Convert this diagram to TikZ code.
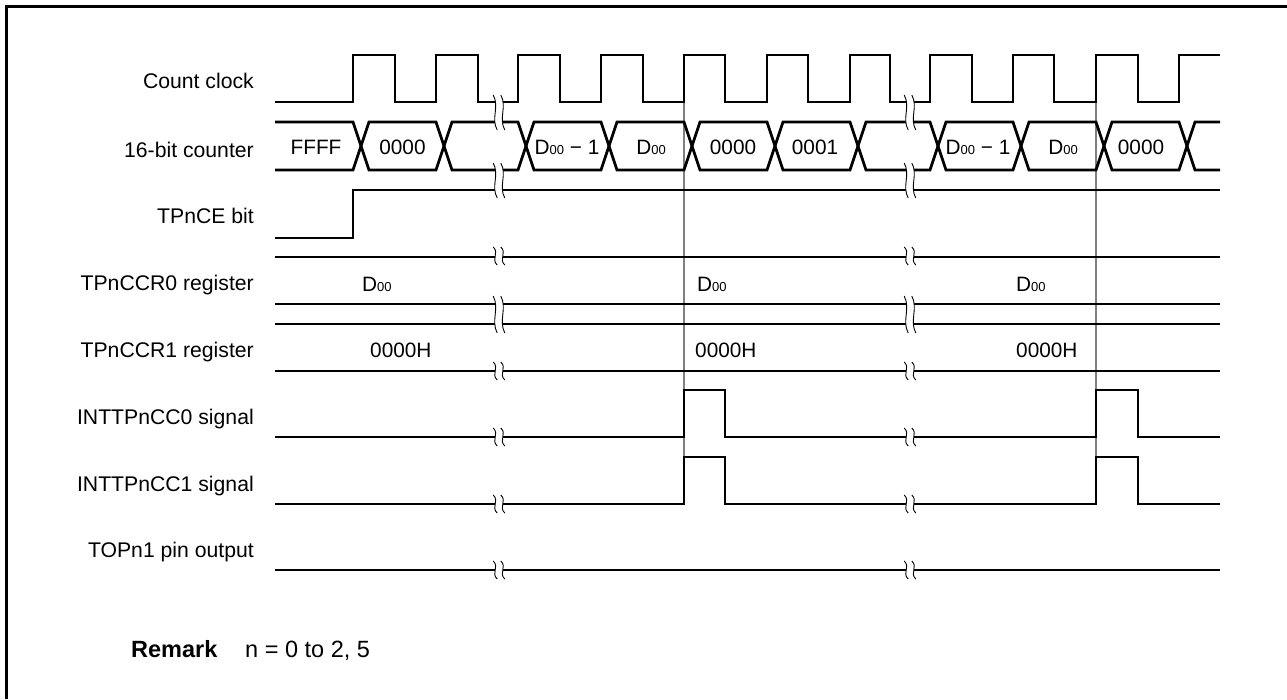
\documentclass[tikz,border=0pt]{standalone}
\usepackage{fontspec}
\setmainfont{Liberation Sans}
\newcommand\lblfont{\fontsize{21.2}{25}\selectfont}
\newcommand\valfont{\fontsize{20.8}{24}\selectfont}
\newcommand\remfont{\fontsize{23.5}{28}\selectfont}
\newcommand\Dsub{D\raisebox{-0.6pt}{\fontsize{13}{13}\selectfont 00}}
\newcommand\brkmark[3]{%
  \fill[white] ({#1-3.8-2},#2) .. controls ({#1-3.8+4.5},{#2+(#3-#2)/3}) and ({#1-3.8-4.5},{#2+2*(#3-#2)/3}) .. ({#1-3.8+2},#3)
     -- ({#1+3.8+2},#3) .. controls ({#1+3.8-4.5},{#2+2*(#3-#2)/3}) and ({#1+3.8+4.5},{#2+(#3-#2)/3}) .. ({#1+3.8-2},#2) -- cycle;
  \draw[line width=0.9pt] ({#1-3.8-2},#2) .. controls ({#1-3.8+4.5},{#2+(#3-#2)/3}) and ({#1-3.8-4.5},{#2+2*(#3-#2)/3}) .. ({#1-3.8+2},#3);
  \draw[line width=0.9pt] ({#1+3.8-2},#2) .. controls ({#1+3.8+4.5},{#2+(#3-#2)/3}) and ({#1+3.8-4.5},{#2+2*(#3-#2)/3}) .. ({#1+3.8+2},#3);
}
\begin{document}
\begin{tikzpicture}[x=1pt,y=-1pt,
  sig/.style={line width=2.8pt, line join=miter},
  guide/.style={draw=black!50, line width=1.3pt},
  lbl/.style={anchor=base east, inner sep=0pt, font=\lblfont},
  val/.style={anchor=base, inner sep=0pt, font=\valfont},
  valw/.style={anchor=base west, inner sep=0pt, font=\valfont}]
\useasboundingbox (0,0) rectangle (1287,699);
% frame
\draw[line width=3.3pt] (6.5,699) -- (6.5,6.5) -- (1287,6.5);
% guide lines
\coordinate (g1t) at (684,102); \coordinate (g1b) at (684,457);
\coordinate (g2t) at (1096,102); \coordinate (g2b) at (1096,457);
\draw[guide] (g1t) -- (g1b);
\draw[guide] (g2t) -- (g2b);
% labels
\node[lbl] (lclk) at (254,88) {Count clock};
\node[lbl] (lcnt) at (254,157) {16-bit counter};
\node[lbl] (lce) at (254,223) {TPnCE bit};
\node[lbl] (lccr0) at (254,290) {TPnCCR0 register};
\node[lbl] (lccr1) at (254,357) {TPnCCR1 register};
\node[lbl] (lint0) at (254,424) {INTTPnCC0 signal};
\node[lbl] (lint1) at (254,491) {INTTPnCC1 signal};
\node[lbl] (ltop) at (254,557) {TOPn1 pin output};
% count clock
\draw[sig] (275,102)--(353,102)--(353,55)--(395,55)--(395,102)--(436,102)--(436,55)--(478,55)--(478,102)
 --(518,102)--(518,55)--(560,55)--(560,102)--(601,102)--(601,55)--(643,55)--(643,102)--(684,102)--(684,55)
 --(725,55)--(725,102)--(767,102)--(767,55)--(808,55)--(808,102)--(850,102)--(850,55)--(890,55)--(890,102)
 --(930,102)--(930,55)--(972,55)--(972,102)--(1013,102)--(1013,55)--(1054,55)--(1054,102)--(1096,102)--(1096,55)
 --(1138,55)--(1138,102)--(1179,102)--(1179,55)--(1220,55);
% 16-bit counter bus
\draw[sig] (275,122)--(353,122)--(369,170)--(436,170)--(452,122)--(518,122)--(534,170)--(601,170)--(617,122)
 --(684,122)--(700,170)--(767,170)--(783,122)--(850,122)--(866,170)--(930,170)--(946,122)--(1013,122)
 --(1029,170)--(1096,170)--(1112,122)--(1179,122)--(1195,170)--(1220,170);
\draw[sig] (275,170)--(353,170)--(369,122)--(436,122)--(452,170)--(518,170)--(534,122)--(601,122)--(617,170)
 --(684,170)--(700,122)--(767,122)--(783,170)--(850,170)--(866,122)--(930,122)--(946,170)--(1013,170)
 --(1029,122)--(1096,122)--(1112,170)--(1179,170)--(1195,122)--(1220,122);
\node[val] (c1) at (316,154) {FFFF};
\node[val] (c2) at (402.5,154) {0000};
\node[val] (c3) at (567,154) {\Dsub\ − 1};
\node[val] (c4) at (651,154) {\Dsub};
\node[val] (c5) at (733,154) {0000};
\node[val] (c6) at (815,154) {0001};
\node[val] (c7) at (978,154) {\Dsub\ − 1};
\node[val] (c8) at (1063,154) {\Dsub};
\node[val] (c9) at (1141,154) {0000};
% TPnCE
\draw[sig] (275,238)--(353,238)--(353,190)--(1220,190);
% TPnCCR0
\draw[sig] (275,257)--(1220,257);
\draw[sig] (275,304)--(1220,304);
\node[valw] (r01) at (362,291) {\Dsub};
\node[valw] (r02) at (697,291) {\Dsub};
\node[valw] (r03) at (1016,291) {\Dsub};
% TPnCCR1
\draw[sig] (275,324)--(1220,324);
\draw[sig] (275,371)--(1220,371);
\node[valw] (r11) at (370,357) {0000H};
\node[valw] (r12) at (695,357) {0000H};
\node[valw] (r13) at (1016,357) {0000H};
% INTTPnCC0
\draw[sig] (275,437)--(684,437)--(684,390)--(725,390)--(725,437)--(1096,437)--(1096,390)--(1138,390)--(1138,437)--(1220,437);
% INTTPnCC1
\draw[sig] (275,504)--(684,504)--(684,457)--(725,457)--(725,504)--(1096,504)--(1096,457)--(1138,457)--(1138,504)--(1220,504);
% TOPn1
\draw[sig] (275,570)--(1220,570);
% break marks
\foreach \bx in {499,910}{
  \brkmark{\bx}{95}{130}
  \brkmark{\bx}{163}{198}
  \brkmark{\bx}{247}{265}
  \brkmark{\bx}{296}{333}
  \brkmark{\bx}{362}{380}
  \brkmark{\bx}{428}{446}
  \brkmark{\bx}{495}{513}
  \brkmark{\bx}{561}{579}
}
% remark
\node[anchor=base west, inner sep=0pt, font=\remfont\bfseries] (rem) at (131,657) {Remark};
\node[anchor=base west, inner sep=0pt, font=\remfont] (remt) at (245,657) {n = 0 to 2, 5};
\end{tikzpicture}
\end{document}
